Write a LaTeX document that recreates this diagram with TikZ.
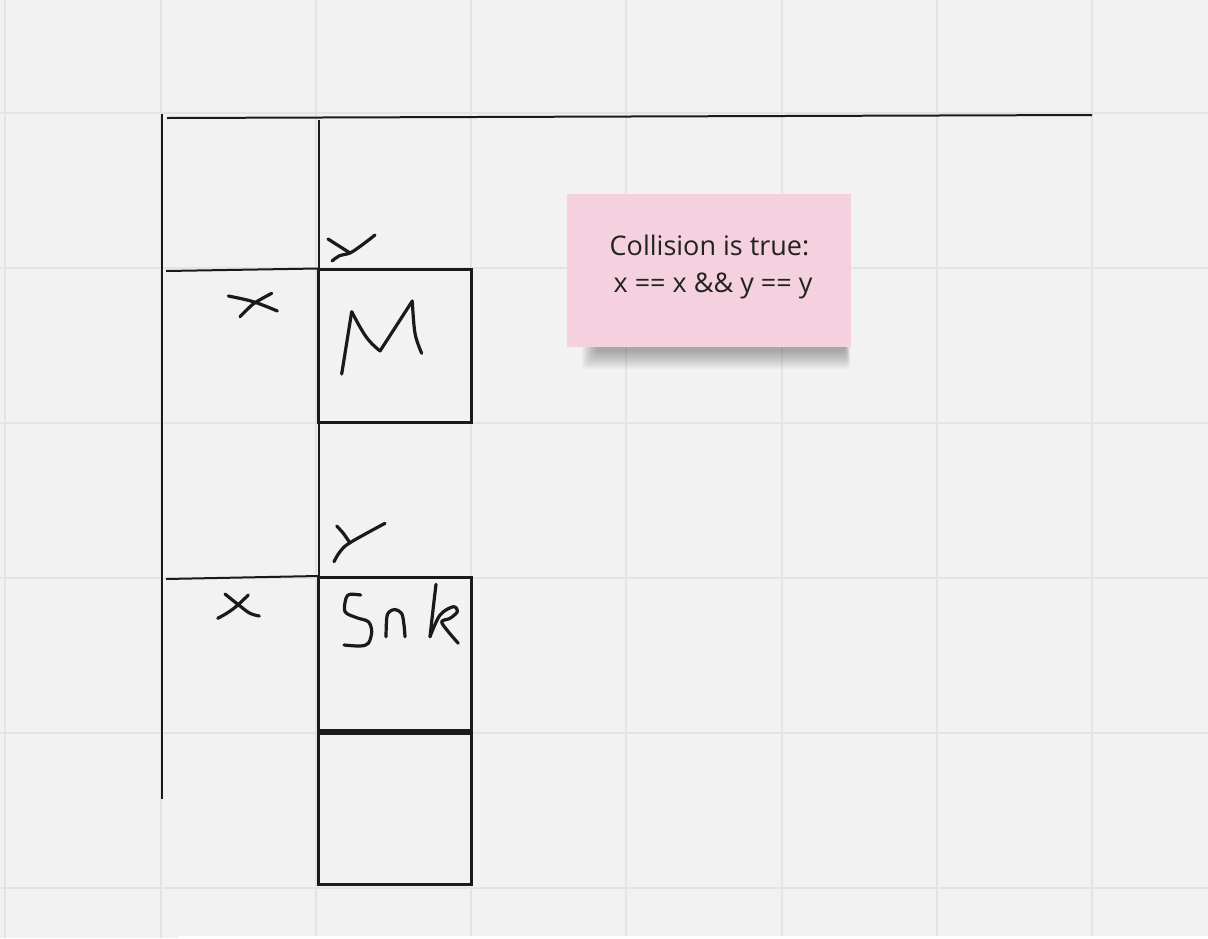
\documentclass[tikz,border=0pt]{standalone}
\usepackage{fontspec}
\setmainfont{Open Sans}
\definecolor{bg}{HTML}{F2F2F2}
\definecolor{gridc}{HTML}{E4E4E4}
\definecolor{ink}{HTML}{1A1A1A}
\definecolor{notepink}{HTML}{F5D1E0}
\definecolor{notetext}{HTML}{222222}
\tikzset{
  gridline/.style={gridc, line width=2pt},
  rule/.style={ink, line width=2pt},
  cell/.style={draw=ink, line width=3pt, minimum width=153pt, minimum height=153pt, inner sep=0pt},
  hand/.style={ink, line width=3.2pt, line cap=round, line join=round},
  note/.style={fill=notepink, minimum width=284pt, minimum height=153pt, inner sep=0pt},
  notelabel/.style={text=notetext, align=center, font=\fontsize{27}{37}\selectfont, inner sep=0pt}
}
\begin{document}
\begin{tikzpicture}[x=1pt,y=-1pt]
\useasboundingbox (0,0) rectangle (1208,938);
\fill[bg] (0,0) rectangle (1208,938);
% grid
\foreach \gx in {5,160.5,316,471,626,781.5,937,1092}
  \draw[gridline] (\gx,0) -- (\gx,938);
\foreach \gy in {113,268,423,578,733,888}
  \draw[gridline] (0,\gy) -- (1208,\gy);
% bottom white strip
\fill[white, rounded corners=3pt] (177,936) rectangle (1215,945);
% rules
\draw[rule] (162,114) -- (162,799);
\draw[rule] (167,118) -- (1092,115);
\draw[rule] (319,120) -- (319,578);
\draw[rule] (166,271) -- (318,268.5);
\draw[rule] (166,579) -- (318,576);
% cells
\node[cell] (m) at (395,346) {};
\node[cell] (s1) at (395,654) {};
\node[cell] (s2) at (395,807.5) {};
\draw[ink, line width=6pt] (s1.south west) -- (s1.south east);
% handwriting: first y and x
\draw[hand] (328,239) -- (350,253);
\draw[hand] plot[smooth, tension=0.6] coordinates {(375,235) (362,245) (350,253) (340,255.5) (332,261)};
\draw[hand] plot[smooth, tension=0.6] coordinates {(228.3,296) (253.3,301.7) (277.3,311)};
\draw[hand] plot[smooth, tension=0.6] coordinates {(271.7,293.3) (255,302.7) (246.7,310) (240,316.7)};
% M
\draw[hand] (341.7,374) -- (351.7,311.7);
\draw[hand] plot[smooth, tension=0.6] coordinates {(351.7,311.7) (361.7,330) (370,341.7) (380,351)};
\draw[hand] (380,351) -- (412.3,301);
\draw[hand] plot[smooth, tension=0.6] coordinates {(412.3,301) (415,333.3) (421.7,353.3)};
% second y and x
\draw[hand] plot[smooth, tension=0.6] coordinates {(336.7,526) (343.3,533.3) (350,543)};
\draw[hand] plot[smooth, tension=0.6] coordinates {(385,523.3) (350,542.7) (340,551.7) (334,561.7)};
\draw[hand] plot[smooth, tension=0.6] coordinates {(225,594) (240,606) (250,613.3) (259.3,616)};
\draw[hand] plot[smooth, tension=0.6] coordinates {(248.3,595) (236.7,606) (226.7,613.3) (217.7,618.3)};
% Snk
\draw[hand] plot[smooth, tension=0.55] coordinates {(360.7,595) (350,594.3) (346,598.3) (345,611.7) (356.7,617.7) (368.3,621.7) (371.7,631.7) (368.3,643.3) (360,646) (344,645)};
\draw[hand] plot[smooth, tension=0.55] coordinates {(386,636.7) (386.7,618.3) (389,612) (395,609.5) (401.7,613.5) (404,625) (405,636.7)};
\draw[hand] plot[smooth, tension=0.5] coordinates {(436,584.3) (433,610) (430,636.7)};
\draw[hand] plot[smooth, tension=0.55] coordinates {(430,636.7) (440,615) (453.3,606.7) (457.3,611.7) (450,618.3) (441.7,621.7) (448.3,631.7) (458.3,643.3)};
% sticky note shadow
\foreach \i in {0,...,11}
  \fill[black, opacity=0.028, rounded corners=4pt] (582+\i*1.3,300) rectangle (850-\i*0.4,369-\i*1.6);
\node[note] (note) at (709,270.5) {};
\node[notelabel] (notetxt) at (709.5,267) {Collision is true:\\ \hspace*{0.26em}x == x \&\& y == y};
\end{tikzpicture}
\end{document}
